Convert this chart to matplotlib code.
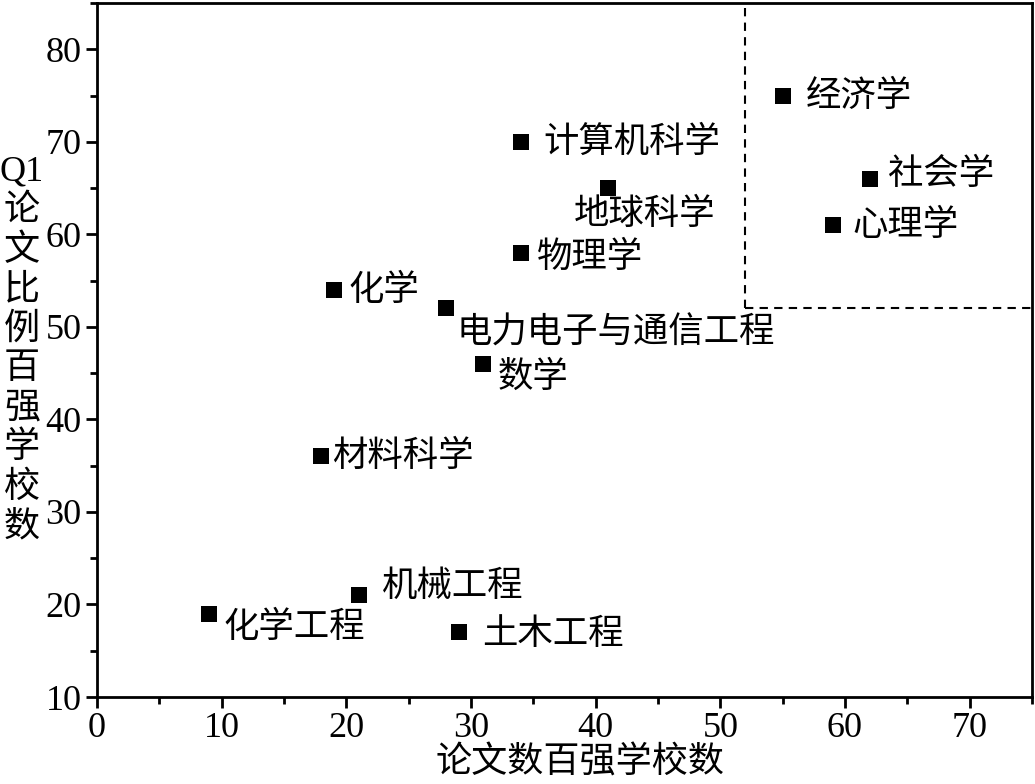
import matplotlib
matplotlib.use("Agg")
import matplotlib.pyplot as plt
from matplotlib.ticker import MultipleLocator

plt.rcParams['font.family'] = ['Liberation Serif', 'Noto Sans CJK SC', 'DejaVu Sans']

# Data
subjects = ['经济学', '计算机科学', '地球科学', '社会学', '心理学', '物理学', '化学',
            '电力电子与通信工程', '数学', '材料科学', '机械工程', '化学工程', '土木工程']
top_schools_papers = [55, 34, 41, 62, 59, 34, 19, 28, 31, 18, 21, 9, 29]
top_schools_q1 = [75, 70, 65, 66, 61, 58, 54, 52, 46, 36, 21, 19, 17]
threshold_x = 52
threshold_y = 52

# label offsets in pixels (dx right, dy down)
offsets_px = [(23, 0), (23, 0), (-34, 26), (18, -5), (20, 0), (16, 4), (15, 0),
              (10, 24), (14, 13), (11, 0), (23, -9), (14, 13), (24, 2)]

fig = plt.figure(figsize=(10.35, 7.84), dpi=100)
ax = fig.add_axes([97/1035, 1 - 697/784, (1032-97)/1035, (697-3)/784])

ax.scatter(top_schools_papers, top_schools_q1, marker='s', s=11.5**2, color='black',
           linewidths=0, zorder=3)

cjk = ['Noto Sans CJK SC', 'DejaVu Sans']
for name, x, y, (dx, dy) in zip(subjects, top_schools_papers, top_schools_q1, offsets_px):
    ax.annotate(name, (x, y), xytext=(dx * 0.72, -dy * 0.72), textcoords='offset points',
                ha='left', va='center', fontsize=25.5, family=cjk)

ax.set_xlim(0, 75)
ax.set_ylim(10, 85)
ax.plot([threshold_x, threshold_x], [threshold_y, 85], ls=(0, (4, 3)), color='black', lw=1.5)
ax.plot([threshold_x, 75], [threshold_y, threshold_y], ls=(0, (4, 3)), color='black', lw=1.5)

ax.xaxis.set_major_locator(MultipleLocator(10))
ax.xaxis.set_minor_locator(MultipleLocator(5))
ax.yaxis.set_major_locator(MultipleLocator(10))
ax.yaxis.set_minor_locator(MultipleLocator(5))
ax.tick_params(which='major', direction='out', length=8, width=2, labelsize=26, pad=3)
ax.tick_params(which='minor', direction='out', length=5, width=2)
ax.tick_params(top=False, right=False)
for lbl in ax.get_xticklabels() + ax.get_yticklabels():
    lbl.set_family('Liberation Serif')
for sp in ax.spines.values():
    sp.set_linewidth(2)

fig.text(580/1035, 1 - 763/784, '论文数百强学校数', ha='center', va='center', fontsize=26, family=cjk)
fig.text(22/1035, 1 - 350/784, 'Q1\n论\n文\n比\n例\n百\n强\n学\n校\n数', ha='center', va='center',
         fontsize=26, family=['Liberation Serif', 'Noto Sans CJK SC'], linespacing=1.25)

fig.savefig('out.png', dpi=100)
